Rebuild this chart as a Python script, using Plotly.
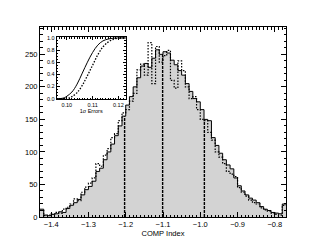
import plotly.graph_objects as go

# ---------------- data ----------------
bin_start = -1.43
bin_width = 0.01
solid_counts = [12, 3, 2, 4, 5, 8, 7, 13, 18, 22, 27, 34, 42, 47, 55, 70, 75, 88, 100, 112,
                125, 140, 155, 172, 185, 200, 214, 232, 236, 230, 244, 257, 250, 254, 252, 241,
                234, 225, 218, 205, 193, 182, 177, 165, 150, 148, 122, 110, 98, 88, 80, 74,
                60, 48, 40, 34, 29, 26, 22, 16, 12, 10, 7, 6, 5, 20]
dotted_counts = [10, 2, 3, 5, 7, 6, 12, 15, 20, 28, 25, 38, 46, 52, 60, 82, 78, 95, 105, 122,
                 128, 148, 160, 165, 178, 190, 226, 235, 218, 268, 205, 262, 238, 248, 256, 210,
                 198, 240, 225, 200, 182, 185, 165, 150, 148, 130, 118, 100, 92, 82, 70, 66,
                 62, 45, 38, 32, 26, 22, 20, 14, 11, 9, 6, 4, 3, 18]
sigma_lines = [-1.203, -1.101, -0.989]

x_ticks = [-1.4, -1.3, -1.2, -1.1, -1.0, -0.9, -0.8]
y_ticks = [0, 50, 100, 150, 200, 250]

inset_x_solid = [0.096, 0.098, 0.099, 0.100, 0.102, 0.104, 0.106, 0.108, 0.110, 0.112,
                 0.114, 0.116, 0.118, 0.120, 0.123]
inset_y_solid = [0.0, 0.005, 0.015, 0.04, 0.11, 0.24, 0.42, 0.60, 0.76, 0.88,
                 0.95, 0.98, 0.995, 1.0, 1.0]
inset_x_dot = [0.096, 0.100, 0.101, 0.102, 0.104, 0.106, 0.108, 0.110, 0.112, 0.114,
               0.116, 0.118, 0.120, 0.122, 0.123]
inset_y_dot = [0.0, 0.005, 0.015, 0.035, 0.10, 0.22, 0.38, 0.55, 0.72, 0.85,
               0.93, 0.975, 0.995, 1.0, 1.0]

# ---------------- figure ----------------
n = len(solid_counts)
edges = [bin_start + i * bin_width for i in range(n + 1)]

FONT = "Liberation Sans, Arial, sans-serif"
fig = go.Figure()

fig.add_trace(go.Scatter(x=edges, y=solid_counts + [solid_counts[-1]], mode="lines",
                         line=dict(shape="hv", color="black", width=1),
                         fill="tozeroy", fillcolor="#d3d3d3", showlegend=False,
                         xaxis="x", yaxis="y"))
fig.add_trace(go.Scatter(x=edges, y=dotted_counts + [dotted_counts[-1]], mode="lines",
                         line=dict(shape="hv", color="black", width=1.2, dash="1.5px,1.5px"),
                         showlegend=False, xaxis="x", yaxis="y"))

for v in sigma_lines:
    idx = int((v - bin_start) // bin_width)
    top = solid_counts[idx]
    fig.add_trace(go.Scatter(x=[v, v], y=[0, top], mode="lines",
                             line=dict(color="black", width=1.4, dash="3px,1px"),
                             showlegend=False, xaxis="x", yaxis="y"))

fig.add_trace(go.Scatter(x=inset_x_solid, y=inset_y_solid, mode="lines",
                         line=dict(color="black", width=1, shape="spline"),
                         showlegend=False, xaxis="x2", yaxis="y2"))
fig.add_trace(go.Scatter(x=inset_x_dot, y=inset_y_dot, mode="lines",
                         line=dict(color="black", width=1.3, dash="1.5px,1.5px", shape="spline"),
                         showlegend=False, xaxis="x2", yaxis="y2"))

axis_common = dict(showline=True, linecolor="black", linewidth=1, mirror="allticks",
                   ticks="inside", tickcolor="black", showgrid=False, zeroline=False)

fig.update_layout(
    width=303, height=241,
    margin=dict(l=32, r=25, t=19, b=32),
    paper_bgcolor="white", plot_bgcolor="white",
    font=dict(family=FONT, size=7.5, color="black"),
    xaxis=dict(**axis_common, range=[-1.43, -0.77], tickvals=x_ticks,
               ticktext=[f"\u2212{abs(t):.1f}" for t in x_ticks], ticklen=5,
               minor=dict(dtick=0.01, tick0=-1.43, ticks="inside", ticklen=2.5, tickcolor="black"),
               title=dict(text="COMP Index", standoff=0, font=dict(size=7.5)),
               tickfont=dict(size=7.5), domain=[0, 1]),
    yaxis=dict(**axis_common, range=[0, 292], tickvals=y_ticks, ticklen=5,
               minor=dict(dtick=10, ticks="inside", ticklen=2.5, tickcolor="black"),
               tickfont=dict(size=7.5), domain=[0, 1]),
    xaxis2=dict(**axis_common, range=[0.0961, 0.1228], anchor="y2",
                domain=[0.068, 0.348], tickvals=[0.10, 0.11, 0.12],
                ticktext=["0.10", "0.11", "0.12"], ticklen=3,
                minor=dict(dtick=0.001, tick0=0.096, ticks="inside", ticklen=1.5, tickcolor="black"),
                tickfont=dict(size=5.5),
                title=dict(text="1\u03c3 Errors", standoff=0, font=dict(size=5.5))),
    yaxis2=dict(**axis_common, range=[-0.005, 1.01], anchor="x2",
                domain=[0.621, 0.946], tickvals=[0, 0.2, 0.4, 0.6, 0.8, 1.0],
                ticktext=["0.0", "0.2", "0.4", "0.6", "0.8", "1.0"], ticklen=3,
                minor=dict(dtick=0.05, ticks="inside", ticklen=1.5, tickcolor="black"),
                tickfont=dict(size=5.5)),
)

fig.write_html("out.html")
